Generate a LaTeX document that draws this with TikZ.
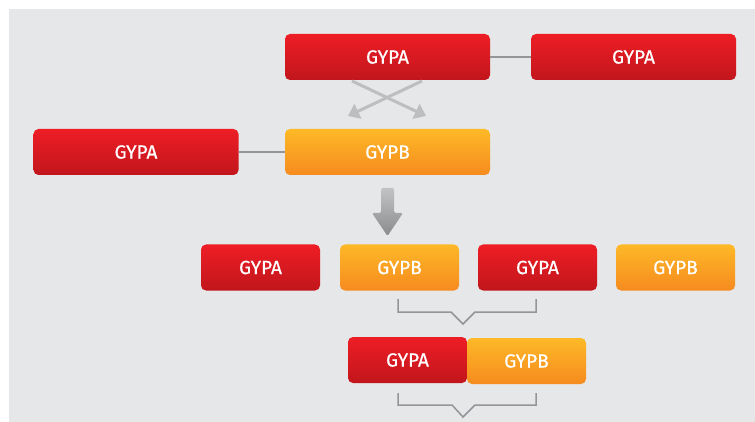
\documentclass[tikz,border=0pt]{standalone}
\usepackage{fontspec}
\setmainfont{Fira Sans}
\newfontfamily\gypfont{Fira Sans}[FakeBold=0.6]
\usetikzlibrary{arrows.meta,calc}
\definecolor{bggrey}{HTML}{E6E7E8}
\definecolor{redtop}{HTML}{EE1D25}
\definecolor{redbot}{HTML}{C1161C}
\definecolor{orgtop}{HTML}{FDB927}
\definecolor{orgbot}{HTML}{F68B1F}
\definecolor{linegrey}{HTML}{939598}
\definecolor{arrgrey}{HTML}{BCBEC0}
\definecolor{downtop}{HTML}{C2C3C5}
\definecolor{downbot}{HTML}{8A8B8D}
\tikzset{
  box/.style   = {rounded corners=5pt, align=center, text=white,
                  font=\gypfont\fontsize{19}{19}\selectfont, inner sep=0pt,
                  minimum height=46pt},
  gypa/.style  = {box, top color=redtop, bottom color=redbot},
  gypb/.style  = {box, top color=orgtop, bottom color=orgbot},
  wide/.style  = {minimum width=205pt},
  short/.style = {minimum width=119pt},
  link/.style  = {draw=linegrey, line width=1.3pt},
  cross/.style = {-{Triangle[length=11pt,width=16pt]}, draw=arrgrey, line width=3pt},
  brace/.style = {draw=linegrey, line width=1.5pt},
}

\begin{document}
\begin{tikzpicture}[x=1pt, y=-1pt]
  \useasboundingbox (0,0) rectangle (755,422);
  \fill[bggrey] (9,9) rectangle (755,422);

  % top rows
  \node[gypa, wide] (topa)  at (387.5,57)  {GYPA};
  \node[gypa, wide] (topa2) at (633.5,57)  {GYPA};
  \node[gypa, wide] (lefta) at (136,152)   {GYPA};
  \node[gypb, wide] (topb)  at (387.5,152) {GYPB};

  \draw[link] (topa)  -- (topa2);
  \draw[link] (lefta) -- (topb);

  % crossing arrows
  \coordinate (xls) at (352,81);
  \coordinate (xrs) at (422,81);
  \coordinate (xle) at (348,116);
  \coordinate (xre) at (426,116);
  \draw[cross] (xls) -- (xre);
  \draw[cross] (xrs) -- (xle);

  % big down arrow
  \shade[top color=downtop, bottom color=downbot, rounded corners=1.5pt]
    (381,188) -- (394,188) -- (394,213) -- (403,213) -- (387.5,236)
    -- (372,213) -- (381,213) -- cycle;

  % third row
  \node[gypa, short] (rowa1) at (260.5,267.5) {GYPA};
  \node[gypb, short] (rowb1) at (399.5,267.5) {GYPB};
  \node[gypa, short] (rowa2) at (537.5,267.5) {GYPA};
  \node[gypb, short] (rowb2) at (675.5,267.5) {GYPB};

  \draw[brace] (398,299) -- (398,312) -- (451,312) -- (463,324)
    -- (475,312) -- (536,312) -- (536,299);

  % joined pair
  \node[gypa, short] (paira) at (407.5,360) {GYPA};
  \node[gypb, short] (pairb) at (526.5,361) {GYPB};

  \draw[brace] (398,393) -- (398,405) -- (452,405) -- (463,417)
    -- (475,405) -- (536,405) -- (536,393);
\end{tikzpicture}
\end{document}
